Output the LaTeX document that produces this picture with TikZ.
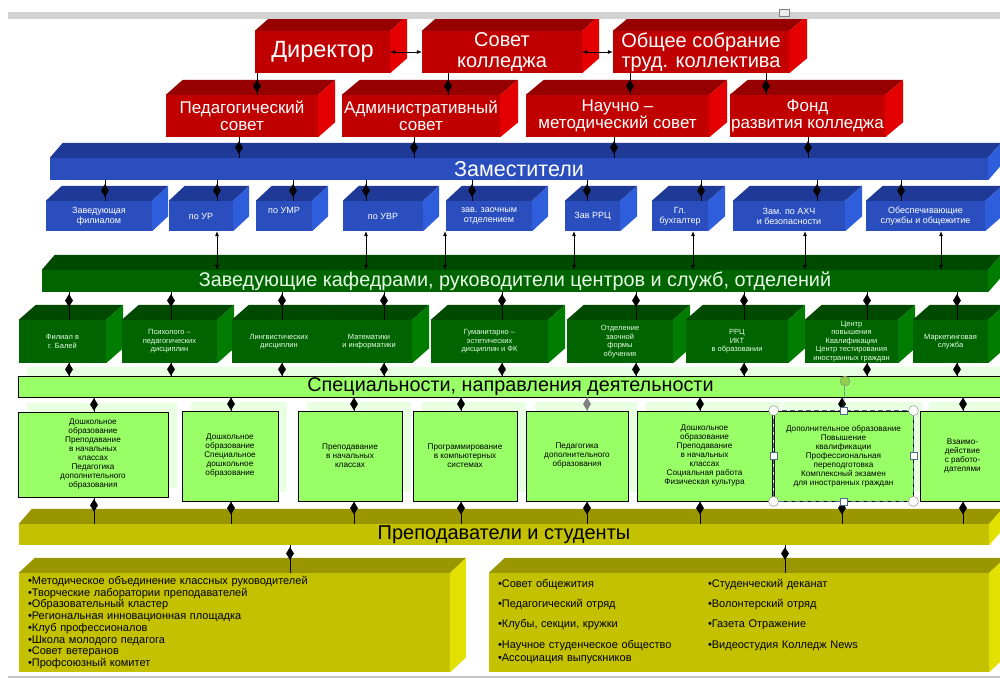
\documentclass[tikz,border=0pt]{standalone}
\usepackage{fontspec}
\setmainfont{Liberation Sans}
\usetikzlibrary{shapes.geometric,arrows.meta,backgrounds}

\definecolor{frontred}{HTML}{C00000}
\definecolor{topred}{HTML}{960000}
\definecolor{sidered}{HTML}{E40000}
\definecolor{frontblue}{HTML}{2A4EBE}
\definecolor{topblue}{HTML}{1E3A96}
\definecolor{sideblue}{HTML}{2F5EDD}
\definecolor{frontgreen}{HTML}{006400}
\definecolor{topgreen}{HTML}{004A00}
\definecolor{sidegreen}{HTML}{007C00}
\definecolor{frontolive}{HTML}{C4C100}
\definecolor{topolive}{HTML}{999600}
\definecolor{sideolive}{HTML}{E2E000}
\definecolor{lightgreen}{HTML}{99FF66}
\definecolor{palegreen}{HTML}{E8FFE2}
\definecolor{textgreen}{HTML}{E6FFE6}
\definecolor{slate}{HTML}{4F6B8C}
\definecolor{handlegreen}{HTML}{8FD14F}

\begin{document}
\begin{tikzpicture}
[x=1pt,y=-1pt,
 front/.style={rectangle,inner sep=1pt,align=center},
 redbox/.style={front,fill=frontred,text=white,minimum height=42pt,font=\fontsize{17}{17.5}\selectfont},
 bluebox/.style={front,fill=frontblue,text=white,minimum height=30pt,font=\fontsize{9}{10}\selectfont},
 greenbox/.style={front,fill=frontgreen,text=textgreen,minimum height=43pt,font=\fontsize{7.5}{8.6}\selectfont},
 specbox/.style={front,fill=lightgreen,draw=black,line width=0.8pt,minimum height=90pt,font=\fontsize{8.2}{9}\selectfont},
 olivebox/.style={front,fill=frontolive,text=black},
 barbox/.style={front,inner ysep=0pt,minimum height=22pt},
 linedecorate/.style={-,thin},
 diam/.style={diamond,fill=black,inner sep=0pt,minimum width=8pt,minimum height=13pt},
 arrowdecorate/.style={{Latex[length=5pt,width=4pt]}-{Latex[length=5pt,width=4pt]},semithick},
 selline/.style={draw=slate,line width=0.9pt,dash pattern=on 5pt off 3pt}]
\useasboundingbox (0,0) rectangle (1000,678);
% councils
\node (dir) at (322.5,52) [redbox,minimum width=135pt,font=\fontsize{23.5}{24}\selectfont] {Директор};
\node (sov) at (502,52) [redbox,minimum width=160pt,font=\fontsize{20}{20.5}\selectfont] {Совет\\колледжа};
\node (obs) at (701,52) [redbox,minimum width=176pt,font=\fontsize{20}{20.5}\selectfont] {Общее собрание\\труд. коллектива};
\node (ped) at (242,116) [redbox,minimum width=152pt] {Педагогический\\совет};
\node (adm) at (421,116) [redbox,minimum width=158pt] {Административный\\совет};
\node (nauch) at (617.5,116) [redbox,minimum width=183pt] {Научно –\\методический совет};
\node (fond) at (807.5,116) [redbox,minimum width=155pt] {Фонд\\развития колледжа};
% deputies
\node (zam) at (519,169) [barbox,fill=frontblue,text=white,minimum width=938pt,font=\fontsize{21.5}{22}\selectfont] {Заместители};
\node (zavf) at (99,216) [bluebox,minimum width=106pt] {Заведующая\\филиалом};
\node (ur) at (201,216) [bluebox,minimum width=64pt] {по УР};
\node (umr) at (284,216) [bluebox,minimum width=56pt] {по УМР\\[2pt]\mbox{}};
\node (uvr) at (383,216) [bluebox,minimum width=80pt] {по УВР};
\node (zaoch) at (489,216) [bluebox,minimum width=86pt] {зав. заочным\\отделением};
\node (rrc) at (592.5,216) [bluebox,minimum width=55pt] {Зав РРЦ};
\node (buh) at (680,216) [bluebox,minimum width=56pt] {Гл.\\бухгалтер};
\node (ahch) at (789,216) [bluebox,minimum width=112pt] {Зам. по АХЧ\\и безопасности};
\node (obes) at (925.5,216) [bluebox,minimum width=119pt] {Обеспечивающие\\службы и общежитие};
% departments
\node (kaf) at (515,281) [barbox,fill=frontgreen,text=textgreen,minimum width=946pt,font=\fontsize{19.8}{20}\selectfont] {Заведующие кафедрами, руководители центров и служб, отделений};
\node (fil) at (62.5,341.5) [greenbox,minimum width=87pt] {Филиал в\\г. Балей};
\node (psy) at (169.5,341.5) [greenbox,minimum width=95pt] {Психолого –\\педагогических\\дисциплин};
\node (ling) at (279,341.5) [greenbox,minimum width=94pt] {Лингвистических\\дисциплин};
\node (mat) at (369,341.5) [greenbox,minimum width=86pt] {Математики\\и информатики};
\node (gum) at (489.5,341.5) [greenbox,minimum width=117pt] {Гуманитарно –\\эстетических\\дисциплин и ФК};
\node (zaof) at (620,341.5) [greenbox,minimum width=106pt] {Отделение\\заочной\\формы\\обучения};
\node (rrcikt) at (737,341.5) [greenbox,minimum width=102pt] {РРЦ\\ИКТ\\в образовании};
\node (cpk) at (851.5,341.5) [greenbox,minimum width=93pt] {Центр\\повышения\\Квалификации\\Центр тестирования\\иностранных граждан};
\node (mark) at (950.5,341.5) [greenbox,minimum width=75pt] {Маркетинговая\\служба};
% specialities
\node (spec) at (510.5,386.5) [barbox,fill=lightgreen,draw=black,line width=0.8pt,minimum width=985pt,minimum height=21pt,font=\fontsize{19.8}{20}\selectfont] {Специальности, направления деятельности};
\node (lga) at (93,454.5) [specbox,minimum width=150pt,minimum height=85pt] {Дошкольное\\образование\\Преподавание\\в начальных\\классах\\Педагогика\\дополнительного\\образования};
\node (lgb) at (230,456) [specbox,minimum width=96pt] {Дошкольное\\образование\\Специальное\\дошкольное\\образование};
\node (lgc) at (350,456) [specbox,minimum width=104pt] {Преподавание\\в начальных\\классах};
\node (lgd) at (465,456) [specbox,minimum width=104pt] {Программирование\\в компьютерных\\системах};
\node (lge) at (577,456) [specbox,minimum width=102pt] {Педагогика\\дополнительного\\образования};
\node (lgf) at (704.5,456) [specbox,minimum width=135pt] {Дошкольное\\образование\\Преподавание\\в начальных\\классах\\Социальная работа\\Физическая культура};
\node (lgg) at (843.5,456) [specbox,minimum width=139pt] {Дополнительное образование\\Повышение\\квалификации\\Профессиональная\\переподготовка\\Комплексный экзамен\\для иностранных граждан};
\node (lgh) at (962.5,456) [specbox,minimum width=85pt] {Взаимо-\\действие\\с работо-\\дателями};
% teachers and students
\node (prep) at (504,534.5) [barbox,fill=frontolive,text=black,minimum width=970pt,minimum height=21pt,font=\fontsize{20}{21}\selectfont] {Преподаватели и студенты};
\node (bl) at (234.5,622.5) [olivebox,minimum height=99pt,inner xsep=9pt,text width=413pt,align=left,font=\fontsize{11}{11.7}\selectfont] {•Методическое объединение классных руководителей\\•Творческие лаборатории преподавателей\\•Образовательный кластер\\•Региональная инновационная площадка\\•Клуб профессионалов\\•Школа молодого педагога\\•Совет ветеранов\\•Профсоюзный комитет};
\node (br) at (739,622.5) [olivebox,minimum height=99pt,inner xsep=9pt,text width=482pt,align=left,font=\fontsize{11}{12}\selectfont] {\begin{tabular}{@{}p{210pt}@{}l@{}}
•Совет общежития & •Студенческий деканат\\[8pt]
•Педагогический отряд & •Волонтерский отряд\\[8pt]
•Клубы, секции, кружки & •Газета Отражение\\[9pt]
•Научное студенческое общество & •Видеостудия Колледж News\\[1pt]
•Ассоциация выпускников &
\end{tabular}};
% faces of the boxes
\begin{pgfonlayer}{background}
\foreach \n in {spec,lga,lgb,lgc,lgd,lge,lgf,lgg,lgh}
  \fill[palegreen] ([shift={(9pt,9pt)}]\n.south west) rectangle ([shift={(9pt,9pt)}]\n.north east);
\foreach \n/\f/\dx/\dy in {dir/red/17/15,sov/red/17/15,obs/red/18/15,ped/red/17/15,adm/red/18/15,nauch/red/18/15,fond/red/18/15,
  zam/blue/13/15,zavf/blue/16/15,ur/blue/16/15,umr/blue/16/15,uvr/blue/16/15,zaoch/blue/16/15,rrc/blue/17/15,buh/blue/17/15,ahch/blue/17/15,obes/blue/17/15,
  kaf/green/13/15,fil/green/17/15,psy/green/17/15,ling/green/17/15,mat/green/17/15,gum/green/17/15,zaof/green/17/15,rrcikt/green/17/15,cpk/green/17/15,mark/green/17/15,
  prep/olive/13/15,bl/olive/16/15,br/olive/16/15}{
  \fill[fill=top\f] (\n.north west) -- ++(\dx pt,\dy pt) -- ([shift={(\dx pt,\dy pt)}]\n.north east) -- (\n.north east) -- cycle;
  \fill[fill=side\f] (\n.north east) -- ++(\dx pt,\dy pt) -- ([shift={(\dx pt,\dy pt)}]\n.south east) -- (\n.south east) -- cycle;
}
\end{pgfonlayer}
% window frame
\fill[gray!35] (8,12) rectangle (1000,19);
\filldraw[fill=gray!15,draw=gray] (779,9) rectangle (789,16);
\fill[gray!45] (8,676) rectangle (1000,678);
% edges or lines
\path
(dir.east) edge[arrowdecorate] (sov.west)
(sov.east) edge[arrowdecorate] (obs.west)
(dir.south -| 257,0) edge[linedecorate] node[diam,pos=0.6] {} (ped.north -| 257,0)
(sov.south -| 448,0) edge[linedecorate] node[diam,pos=0.6] {} (adm.north -| 448,0)
(obs.south -| 630,0) edge[linedecorate] node[diam,pos=0.6] {} (nauch.north -| 630,0)
(obs.south -| 766,0) edge[linedecorate] node[diam,pos=0.6] {} (fond.north -| 766,0)
(ped.south -| 239,0) edge[linedecorate] node[diam] {} (zam.north -| 239,0)
(adm.south -| 414,0) edge[linedecorate] node[diam] {} (zam.north -| 414,0)
(nauch.south -| 614,0) edge[linedecorate] node[diam] {} (zam.north -| 614,0)
(fond.south -| 808,0) edge[linedecorate] node[diam] {} (zam.north -| 808,0)
(zam.south -| 105,0) edge[linedecorate] node[diam] {} (zavf.north -| 105,0)
(zam.south -| 217,0) edge[linedecorate] node[diam] {} (ur.north -| 217,0)
(zam.south -| 293,0) edge[linedecorate] node[diam] {} (umr.north -| 293,0)
(zam.south -| 366,0) edge[linedecorate] node[diam] {} (uvr.north -| 366,0)
(zam.south -| 472,0) edge[linedecorate] node[diam] {} (zaoch.north -| 472,0)
(zam.south -| 587,0) edge[linedecorate] node[diam] {} (rrc.north -| 587,0)
(zam.south -| 701,0) edge[linedecorate] node[diam] {} (buh.north -| 701,0)
(zam.south -| 817,0) edge[linedecorate] node[diam] {} (ahch.north -| 817,0)
(zam.south -| 901,0) edge[linedecorate] node[diam] {} (obes.north -| 901,0)
(ur.south -| 217,0) edge[arrowdecorate] (kaf.north -| 217,0)
(uvr.south -| 366,0) edge[arrowdecorate] (kaf.north -| 366,0)
(zaoch.south -| 445,0) edge[arrowdecorate] (kaf.north -| 445,0)
(rrc.south -| 574,0) edge[arrowdecorate] (kaf.north -| 574,0)
(buh.south -| 693,0) edge[arrowdecorate] (kaf.north -| 693,0)
(ahch.south -| 805,0) edge[arrowdecorate] (kaf.north -| 805,0)
(obes.south -| 941,0) edge[arrowdecorate] (kaf.north -| 941,0)
(kaf.south -| 69,0) edge[linedecorate] node[diam,pos=0.3] {} (fil.north -| 69,0)
(kaf.south -| 171,0) edge[linedecorate] node[diam,pos=0.3] {} (psy.north -| 171,0)
(kaf.south -| 282,0) edge[linedecorate] node[diam,pos=0.3] {} (ling.north -| 282,0)
(kaf.south -| 384,0) edge[linedecorate] node[diam,pos=0.3] {} (mat.north -| 384,0)
(kaf.south -| 502,0) edge[linedecorate] node[diam,pos=0.3] {} (gum.north -| 502,0)
(kaf.south -| 636,0) edge[linedecorate] node[diam,pos=0.3] {} (zaof.north -| 636,0)
(kaf.south -| 744,0) edge[linedecorate] node[diam,pos=0.3] {} (rrcikt.north -| 744,0)
(kaf.south -| 867,0) edge[linedecorate] node[diam,pos=0.3] {} (cpk.north -| 867,0)
(kaf.south -| 957,0) edge[linedecorate] node[diam,pos=0.3] {} (mark.north -| 957,0)
(fil.south -| 69,0) edge[linedecorate] node[diam] {} (spec.north -| 69,0)
(psy.south -| 171,0) edge[linedecorate] node[diam] {} (spec.north -| 171,0)
(ling.south -| 282,0) edge[linedecorate] node[diam] {} (spec.north -| 282,0)
(mat.south -| 384,0) edge[linedecorate] node[diam] {} (spec.north -| 384,0)
(gum.south -| 502,0) edge[linedecorate] node[diam] {} (spec.north -| 502,0)
(zaof.south -| 636,0) edge[linedecorate] node[diam] {} (spec.north -| 636,0)
(rrcikt.south -| 744,0) edge[linedecorate] node[diam] {} (spec.north -| 744,0)
(cpk.south -| 867,0) edge[linedecorate] node[diam] {} (spec.north -| 867,0)
(mark.south -| 957,0) edge[linedecorate] node[diam] {} (spec.north -| 957,0)
(spec.south -| 94,0) edge[linedecorate] node[diam] {} (lga.north -| 94,0)
(spec.south -| 231,0) edge[linedecorate] node[diam] {} (lgb.north -| 231,0)
(spec.south -| 354,0) edge[linedecorate] node[diam] {} (lgc.north -| 354,0)
(spec.south -| 461,0) edge[linedecorate] node[diam] {} (lgd.north -| 461,0)
(spec.south -| 587,0) edge[linedecorate,gray] node[diam,fill=gray] {} (lge.north -| 587,0)
(spec.south -| 700,0) edge[linedecorate] node[diam] {} (lgf.north -| 700,0)
(spec.south -| 842,0) edge[linedecorate] node[diam] {} (lgg.north -| 842,0)
(spec.south -| 963,0) edge[linedecorate] node[diam] {} (lgh.north -| 963,0)
(lga.south -| 94,0) edge[linedecorate] node[diam,pos=0.3] {} (prep.north -| 94,0)
(lgb.south -| 231,0) edge[linedecorate] node[diam,pos=0.3] {} (prep.north -| 231,0)
(lgc.south -| 354,0) edge[linedecorate] node[diam,pos=0.3] {} (prep.north -| 354,0)
(lgd.south -| 461,0) edge[linedecorate] node[diam,pos=0.3] {} (prep.north -| 461,0)
(lge.south -| 587,0) edge[linedecorate] node[diam,pos=0.3] {} (prep.north -| 587,0)
(lgf.south -| 700,0) edge[linedecorate] node[diam,pos=0.3] {} (prep.north -| 700,0)
(lgg.south -| 842,0) edge[linedecorate] node[diam,pos=0.3] {} (prep.north -| 842,0)
(lgh.south -| 963,0) edge[linedecorate] node[diam,pos=0.3] {} (prep.north -| 963,0)
(prep.south -| 290,0) edge[linedecorate] node[diam,pos=0.3] {} (bl.north -| 290,0)
(prep.south -| 785,0) edge[linedecorate] node[diam,pos=0.3] {} (br.north -| 785,0);
% selection handles
\coordinate (rot) at (845,381);
\draw[slate,thin] (rot) -- (lgg.north);
\draw[selline] (lgg.north west) rectangle (lgg.south east);
\foreach \a in {north west,north east,south west,south east}
  \filldraw[fill=white,draw=gray,thin] (lgg.\a) circle (5pt);
\foreach \a in {north,south,east,west}
  \filldraw[fill=white,draw=slate,thin] ([shift={(-3.5pt,-3.5pt)}]lgg.\a) rectangle ++(7pt,7pt);
\filldraw[fill=handlegreen,draw=gray,thin] (rot) circle (5pt);
\end{tikzpicture}
\end{document}
